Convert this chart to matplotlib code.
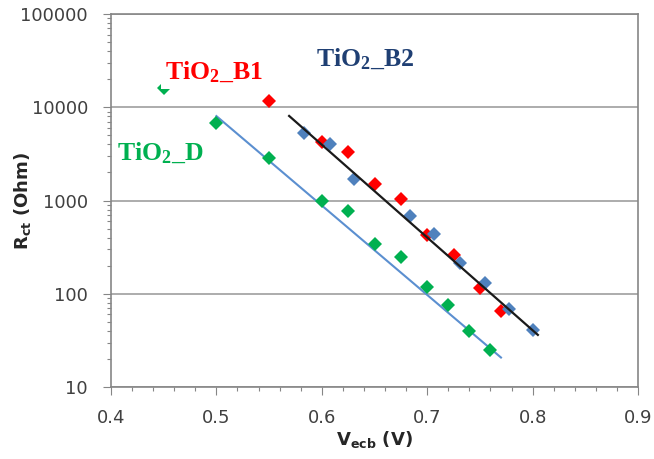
import numpy as np
import matplotlib
matplotlib.use('Agg')
import matplotlib.pyplot as plt
from matplotlib.ticker import LogLocator, FixedLocator, MultipleLocator, FuncFormatter, NullFormatter

# Data
v_d = [0.45, 0.50, 0.55, 0.60, 0.625, 0.65, 0.675, 0.70, 0.72, 0.74, 0.76]
r_d = [16000, 6800, 2860, 1000, 770, 340, 248, 118, 76, 40, 25]

v_b1 = [0.55, 0.60, 0.625, 0.65, 0.675, 0.70, 0.725, 0.75, 0.77]
r_b1 = [11700, 4270, 3330, 1500, 1030, 427, 260, 114, 66]

v_b2 = [0.583, 0.608, 0.631, 0.684, 0.706, 0.731, 0.755, 0.778, 0.800]
r_b2 = [5250, 4040, 1690, 682, 438, 212, 129, 69, 41]

# exponential trendlines R = A*exp(b*V)
fit_d = (5.01e8, -22.08)
fit_b2 = (3.70e9, -22.91)
fit_d_range = [0.50, 0.77]
fit_b2_range = [0.569, 0.805]

y_ticks = [10, 100, 1000, 10000, 100000]
x_ticks = [0.4, 0.5, 0.6, 0.7, 0.8, 0.9]

plt.rcParams['mathtext.fontset'] = 'custom'
plt.rcParams['mathtext.rm'] = 'Liberation Serif:bold'
plt.rcParams['mathtext.sf'] = 'DejaVu Sans:bold'

green = '#00B050'
red = '#FF0000'
blue = '#4F81BD'
tick_col = '#404040'
grid_col = '#A6A6A6'

fig = plt.figure(figsize=(6.54, 4.59), dpi=100)
ax = fig.add_axes([111/654, 1-387/459, (638-111)/654, (387-14)/459])

# trend lines
xx = np.linspace(fit_d_range[0], fit_d_range[1], 50)
ax.plot(xx, fit_d[0]*np.exp(fit_d[1]*xx), color='#5B8FD0', lw=1.5, zorder=2)
xx = np.linspace(fit_b2_range[0], fit_b2_range[1], 50)
ax.plot(xx, fit_b2[0]*np.exp(fit_b2[1]*xx), color='#1a1a1a', lw=1.6, zorder=4)

ms = 6.8
ax.plot(v_d, r_d, 'D', color=green, ms=ms, mew=0, zorder=3)
ax.plot(v_b1, r_b1, 'D', color=red, ms=ms, mew=0, zorder=3)
ax.plot(v_b2, r_b2, 'D', color=blue, ms=ms, mew=0, zorder=3)

ax.set_yscale('log')
ax.set_ylim(10, 100000)
ax.set_xlim(0.4, 0.9)

ax.yaxis.set_major_locator(FixedLocator(y_ticks))
ax.yaxis.set_major_formatter(FuncFormatter(lambda v, p: '%d' % v))
ax.yaxis.set_minor_locator(LogLocator(base=10, subs=np.arange(2, 10)))
ax.yaxis.set_minor_formatter(NullFormatter())
ax.xaxis.set_major_locator(FixedLocator(x_ticks))
ax.xaxis.set_major_formatter(FuncFormatter(lambda v, p: '%.1f' % v))
ax.xaxis.set_minor_locator(MultipleLocator(0.02))

ax.tick_params(axis='both', which='major', direction='out', color='#868686',
               labelcolor=tick_col, labelsize=13, length=5.5, width=0.8)
ax.tick_params(axis='both', which='minor', direction='out', color='#868686',
               length=3, width=0.8)
ax.tick_params(axis='y', which='major', pad=11)
ax.tick_params(axis='x', which='major', pad=10)

ax.grid(True, which='major', axis='y', color=grid_col, lw=1.3)
ax.set_axisbelow(True)
for s in ax.spines.values():
    s.set_color('#868686')
    s.set_linewidth(1.2)

ax.set_xlabel(r'$\mathsf{V_{ecb}}$ (V)', fontsize=13, fontweight='bold', color='#262626', labelpad=2)
ax.set_ylabel(r'$\mathsf{R_{ct}}$ (Ohm)', fontsize=13, fontweight='bold', color='#262626')
ax.yaxis.set_label_coords(-0.148, 0.5)

ax.text(0.451, 20100, r'$\mathrm{TiO_2\_B1}$', color=red, fontsize=18.5, ha='left', va='baseline',
        zorder=5, bbox=dict(facecolor='white', edgecolor='none', pad=3))
ax.text(0.5945, 27700, r'$\mathrm{TiO_2\_B2}$', color='#1F3F73', fontsize=18.5, ha='left', va='baseline', zorder=5)
ax.text(0.4057, 2720, r'$\mathrm{TiO_2\_D}$', color=green, fontsize=18.5, ha='left', va='baseline', zorder=5)

plt.savefig('out.png', dpi=100)
